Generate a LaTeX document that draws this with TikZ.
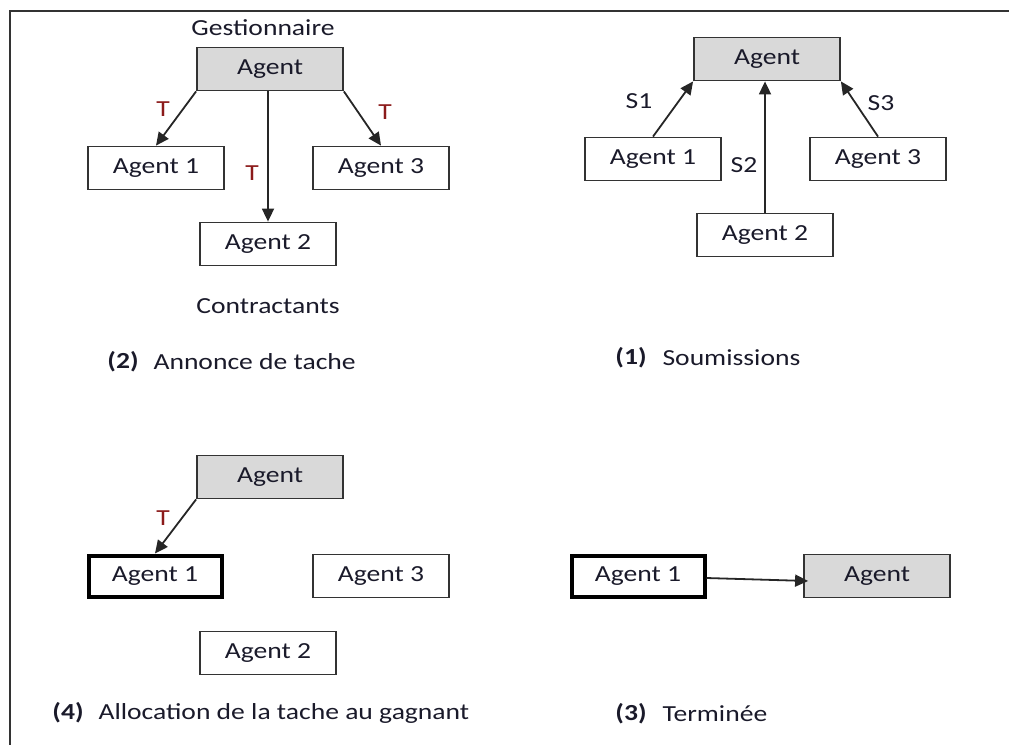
\documentclass[tikz,border=0pt]{standalone}
\usepackage{fontspec}
\setmainfont{Carlito}[FakeStretch=1.2]
\usetikzlibrary{arrows.meta}
\definecolor{txt}{HTML}{1A1A2A}
\definecolor{lbl}{HTML}{8B1A1A}
\definecolor{boxfill}{HTML}{D9D9D9}
\definecolor{edge}{HTML}{333333}
\begin{document}
\begin{tikzpicture}[x=1pt,y=-1pt,
  every node/.style={font=\fontsize{23}{27}\selectfont, text=txt},
  box/.style={draw=edge, line width=1.8pt, minimum width=136pt, minimum height=43pt, inner sep=0pt},
  gbox/.style={box, fill=boxfill, minimum width=146pt},
  win/.style={box, draw=black, line width=4pt, minimum width=133pt, minimum height=41pt},
  arr/.style={draw=black!85, line width=1.8pt, -{Triangle[length=13pt,width=12pt]}},
  lab/.style={text=lbl},
  capnum/.style={font=\bfseries\fontsize{23}{27}\selectfont},
  captxt/.style={anchor=west}
]
\useasboundingbox (0,0) rectangle (1009,745);
% frame
\coordinate (ftl) at (10,11);
\coordinate (ftr) at (1009,11);
\coordinate (fbl) at (10,745);
\draw[edge, line width=2.2pt] (ftr) -- (ftl) -- (fbl);

% ---- (2) Annonce de tache
\node (gest) at (263,28) {Gestionnaire};
\node[gbox] (ag) at (270,69) {Agent};
\node[box] (a1) at (156,168) {Agent 1};
\node[box] (a3) at (381,168) {Agent 3};
\node[box] (a2) at (268,244) {Agent 2};
\draw[arr] (ag.south west) -- (a1.north);
\draw[arr] (a2.north |- ag.south) -- (a2.north);
\draw[arr] (ag.south east) -- (a3.north);
\node[lab] (t1) at (163,109) {T};
\node[lab] (t2) at (252,173) {T};
\node[lab] (t3) at (385,112) {T};
\node (contr) at (268,306) {Contractants};
\node[capnum] (c2n) at (123,362) {(2)};
\node[captxt] (c2t) at (150,362) {Annonce de tache};

% ---- (1) Soumissions
\node[gbox] (bg) at (767,59) {Agent};
\node[box] (b1) at (653,159) {Agent 1};
\node[box] (b3) at (878,159) {Agent 3};
\node[box] (b2) at (765,235) {Agent 2};
\draw[arr] (b1.north) -- (bg.south west);
\draw[arr] (b2.north) -- (b2.north |- bg.south);
\draw[arr] (b3.north) -- (bg.south east);
\node (s1) at (639,101) {S1};
\node (s2) at (744,165) {S2};
\node (s3) at (881,103) {S3};
\node[capnum] (c1n) at (631,358) {(1)};
\node[captxt] (c1t) at (659,358) {Soumissions};

% ---- (4) Allocation
\node[gbox] (cg) at (270,477) {Agent};
\node[win] (c1) at (155,576) {Agent 1};
\node[box] (c3) at (381,576) {Agent 3};
\node[box] (c2) at (268,653) {Agent 2};
\draw[arr] (cg.south west) -- (c1.north);
\node[lab] (t4) at (163,518) {T};
\node[capnum] (c4n) at (68,713) {(4)};
\node[captxt] (c4t) at (95,713) {Allocation de la tache au gagnant};

% ---- (3) Terminee
\node[win] (d1) at (638,576) {Agent 1};
\node[gbox] (dg) at (877,576) {Agent};
\draw[arr] ([yshift=-2pt]d1.east) -- ([xshift=5pt,yshift=-5pt]dg.west);
\node[capnum] (c3n) at (631,714) {(3)};
\node[captxt] (c3t) at (659,714) {Terminée};
\end{tikzpicture}
\end{document}
